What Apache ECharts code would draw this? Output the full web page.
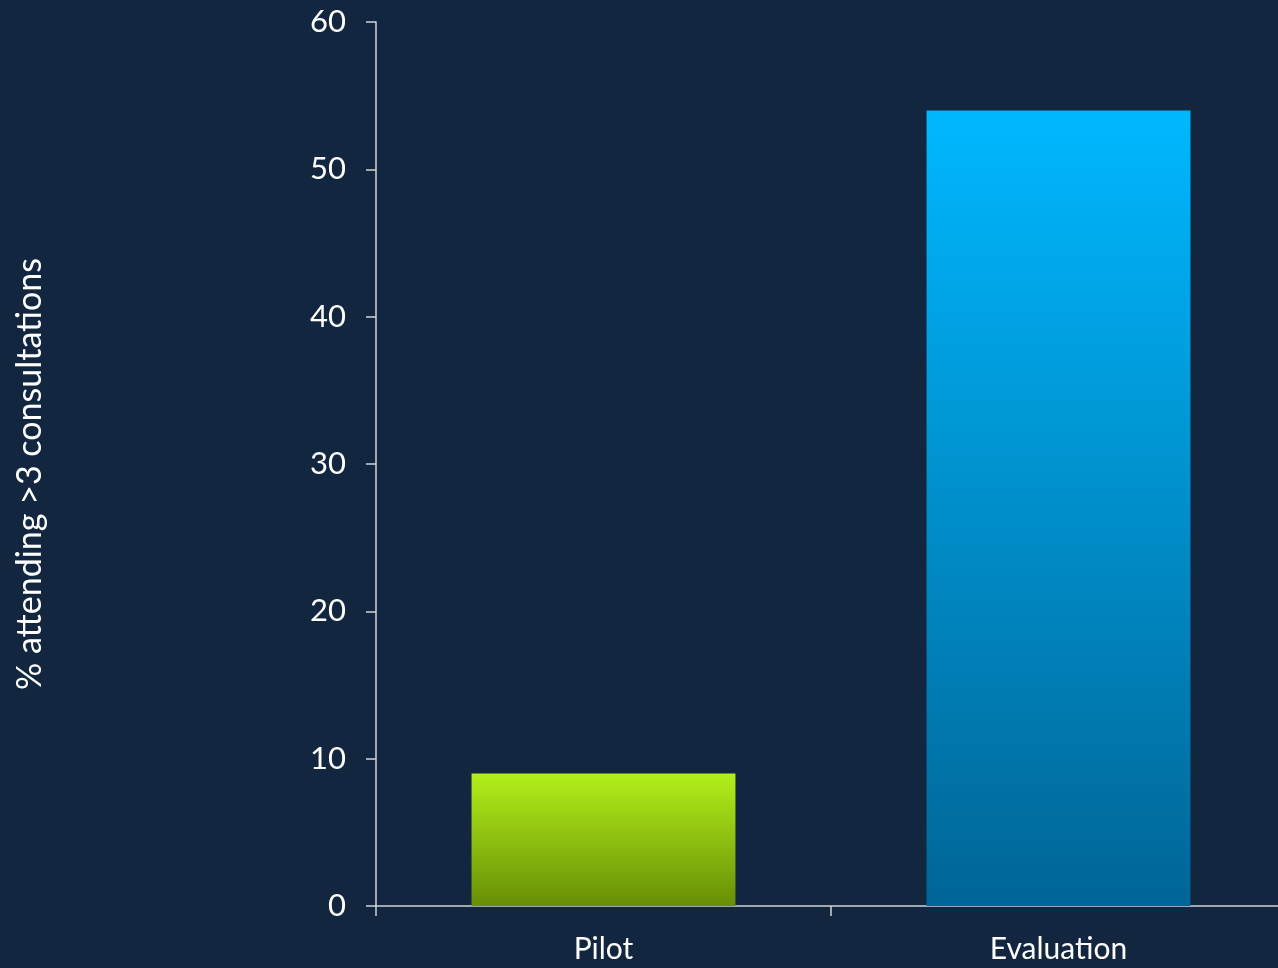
<!DOCTYPE html>
<html><head><meta charset="utf-8">
<script src="https://cdn.jsdelivr.net/npm/echarts@6/dist/echarts.min.js"></script>
<style>html,body{margin:0;padding:0;background:#12263f;}#c{width:1278px;height:968px;}</style>
</head><body><div id="c"></div>
<script>
const categories = ['Pilot', 'Evaluation'];
const values = [9, 54];
const yTicks = [0, 10, 20, 30, 40, 50, 60];
const yName = '% attending >3 consultations';

const gradients = [
  new echarts.graphic.LinearGradient(0, 0, 0, 1, [{offset: 0, color: '#b2f01a'}, {offset: 1, color: '#688e06'}]),
  new echarts.graphic.LinearGradient(0, 0, 0, 1, [{offset: 0, color: '#00b8ff'}, {offset: 1, color: '#006596'}])
];

const chart = echarts.init(document.getElementById('c'));
const font = 'Lato, "Open Sans", sans-serif';
chart.setOption({
  backgroundColor: '#12263f',
  animation: false,
  grid: {left: 376, right: -8, top: 22, bottom: 62, containLabel: false, outerBoundsMode: 'none'},
  xAxis: {
    type: 'category',
    data: categories,
    axisLine: {lineStyle: {color: '#d0d4da', width: 1.5}},
    axisTick: {show: true, alignWithLabel: false, length: 10, inside: false, lineStyle: {color: '#d0d4da', width: 1.5}},
    axisLabel: {color: '#ffffff', fontSize: 30, fontFamily: font, margin: 28}
  },
  yAxis: {
    type: 'value',
    min: yTicks[0], max: yTicks[yTicks.length - 1], interval: 10,
    name: yName,
    nameLocation: 'middle',
    nameGap: 329,
    nameRotate: 90,
    nameTextStyle: {color: '#ffffff', fontSize: 34, fontFamily: font, padding: [0, 20, 0, 0]},
    axisLine: {show: true, lineStyle: {color: '#d0d4da', width: 1.5}},
    axisTick: {show: true, length: 10, lineStyle: {color: '#d0d4da', width: 1.5}},
    splitLine: {show: false},
    axisLabel: {color: '#ffffff', fontSize: 31, fontFamily: font, margin: 30}
  },
  series: [{
    type: 'bar',
    barWidth: '58%',
    data: values.map((v, i) => ({value: v, itemStyle: {color: gradients[i]}}))
  }]
});
</script></body></html>
